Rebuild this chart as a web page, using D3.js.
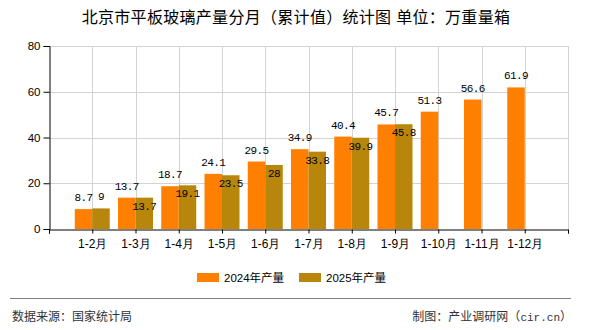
<!DOCTYPE html>
<html>
<head>
<meta charset="utf-8">
<script src="https://cdn.jsdelivr.net/npm/d3@7"></script>
<style>
  html, body { margin: 0; padding: 0; background: #fff; }
  svg { display: block; font-family: "Liberation Sans", "Noto Sans CJK SC", sans-serif; }
</style>
</head>
<body>
<svg id="chart" width="590" height="330"></svg>
<script>
// Monthly cumulative flat glass output, Beijing (10k weight cases)
const categories = ["1-2月", "1-3月", "1-4月", "1-5月", "1-6月", "1-7月", "1-8月", "1-9月", "1-10月", "1-11月", "1-12月"];
const values2024 = [8.7, 13.7, 18.7, 24.1, 29.5, 34.9, 40.4, 45.7, 51.3, 56.6, 61.9];
const values2025 = [9, 13.7, 19.1, 23.5, 28, 33.8, 39.9, 45.8];
const seriesNames = ["2024年产量", "2025年产量"];
const yTicks = [0, 20, 40, 60, 80];

const colors = ["#FF8000", "#B8860B"];
const svg = d3.select("#chart");
const plotL = 49, plotR = 568, plotT = 46, plotB = 229;
const barW = 17.5;

const x = d3.scalePoint().domain(categories).range([plotL, plotR]).padding(1);
const y = d3.scaleLinear().domain([0, 80]).range([plotB, plotT]);

// title
svg.append("text")
  .attr("x", 296).attr("y", 23)
  .attr("text-anchor", "middle")
  .attr("font-size", 16).attr("fill", "#000")
  .attr("letter-spacing", 0.3)
  .text("北京市平板玻璃产量分月（累计值）统计图 单位：万重量箱");

// grid
const grid = svg.append("g").attr("stroke", "#d3d3d3").attr("stroke-width", 1);
grid.selectAll("line.h").data(yTicks.filter(d => d > 0)).join("line")
  .attr("x1", plotL).attr("x2", plotR)
  .attr("y1", d => Math.round(y(d)) + 0.5).attr("y2", d => Math.round(y(d)) + 0.5);
grid.selectAll("line.v").data(categories).join("line")
  .attr("x1", d => Math.round(x(d)) + 0.5).attr("x2", d => Math.round(x(d)) + 0.5)
  .attr("y1", plotT).attr("y2", plotB);
grid.append("line")
  .attr("x1", plotR + 0.5).attr("x2", plotR + 0.5)
  .attr("y1", plotT).attr("y2", plotB);

// bars
const bars = svg.append("g");
bars.selectAll("rect.a").data(values2024).join("rect")
  .attr("x", (d, i) => x(categories[i]) - barW)
  .attr("y", d => y(d))
  .attr("width", barW)
  .attr("height", d => plotB - y(d))
  .attr("fill", colors[0]);
bars.selectAll("rect.b").data(values2025).join("rect")
  .attr("x", (d, i) => x(categories[i]))
  .attr("y", d => y(d))
  .attr("width", barW)
  .attr("height", d => plotB - y(d))
  .attr("fill", colors[1]);

// axes
const yAxis = svg.append("g")
  .attr("transform", `translate(${plotL + 0.5},0)`)
  .call(d3.axisLeft(y).tickValues(yTicks).tickSize(6).tickPadding(3));
yAxis.select(".domain").attr("stroke", "#000");
yAxis.selectAll(".tick line").attr("stroke", "#000");
yAxis.selectAll(".tick text").attr("font-size", 11.5).attr("fill", "#000")
  .attr("font-family", "Liberation Sans, sans-serif");

const xAxis = svg.append("g")
  .attr("transform", `translate(0,${plotB + 0.5})`)
  .call(d3.axisBottom(x).tickSizeInner(4).tickSizeOuter(4).tickPadding(6));
xAxis.select(".domain").attr("stroke", "#000");
xAxis.selectAll(".tick line").attr("stroke", "#000");
xAxis.selectAll(".tick text").attr("font-size", 12).attr("fill", "#000");
// end ticks at both axis ends
xAxis.selectAll("line.edge").data([plotL, plotR]).join("line")
  .attr("class", "edge")
  .attr("x1", d => d + 0.5).attr("x2", d => d + 0.5)
  .attr("y1", 0).attr("y2", 4).attr("stroke", "#000");

// value labels
const lab = svg.append("g")
  .attr("font-family", "Liberation Mono, monospace")
  .attr("font-size", 11).attr("letter-spacing", -0.6)
  .attr("text-anchor", "middle").attr("fill", "#000");
const charW = 6.0;
lab.selectAll("text.a").data(values2024).join("text")
  .attr("x", (d, i) => x(categories[i]) - barW / 2)
  .attr("y", d => y(d) - 8)
  .text(d => d);
lab.selectAll("text.b").data(values2025).join("text")
  .attr("x", (d, i) => x(categories[i]) + barW / 2)
  .attr("y", (d, i) => {
    const o = values2024[i];
    const wo = String(o).length * charW, wg = String(d).length * charW;
    const overlapX = barW < (wo + wg) / 2;
    const overlapY = Math.abs(y(d) - y(o)) < 10;
    return (overlapX && overlapY) ? y(d) + 12 : y(d) - 8;
  })
  .text(d => d);

// legend
const legend = svg.append("g");
const legX = [197, 299];
seriesNames.forEach((name, i) => {
  legend.append("rect")
    .attr("x", legX[i]).attr("y", 273)
    .attr("width", 22).attr("height", 9)
    .attr("fill", colors[i]);
  legend.append("text")
    .attr("x", legX[i] + 27).attr("y", 282)
    .attr("font-size", 11.5).attr("fill", "#000")
    .text(name);
});

// footer
svg.append("line")
  .attr("x1", 10).attr("x2", 571)
  .attr("y1", 298.5).attr("y2", 298.5)
  .attr("stroke", "#808080").attr("stroke-width", 1);
svg.append("text")
  .attr("x", 12).attr("y", 321)
  .attr("font-size", 12).attr("fill", "#333")
  .text("数据来源：国家统计局");
const credit = svg.append("text")
  .attr("x", 572).attr("y", 321)
  .attr("text-anchor", "end")
  .attr("font-size", 12).attr("fill", "#333");
credit.append("tspan").text("制图：产业调研网（");
credit.append("tspan").attr("font-family", "Liberation Mono, monospace").attr("font-size", 11).text("cir.cn");
credit.append("tspan").text("）");
</script>
</body>
</html>
